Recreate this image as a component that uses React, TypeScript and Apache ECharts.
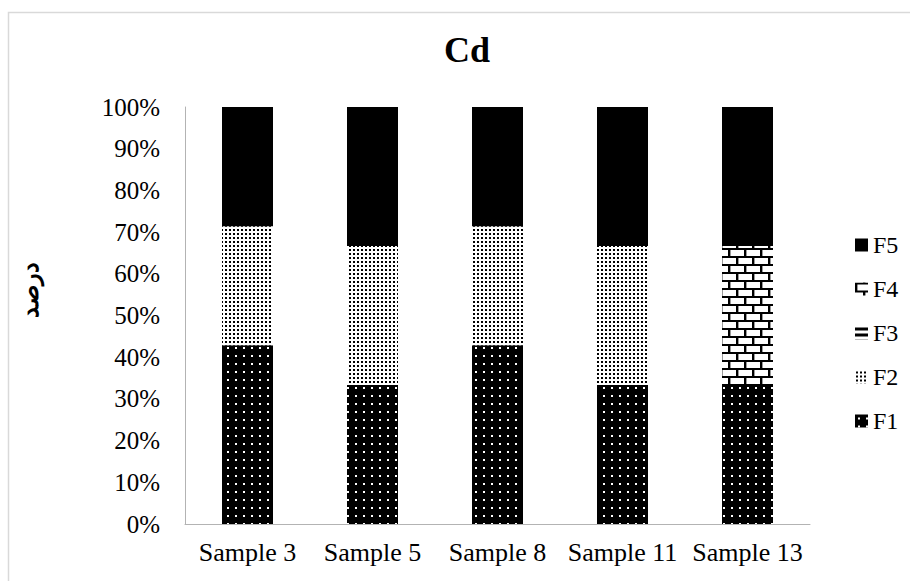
import React, { useEffect, useRef } from 'react';
import * as echarts from 'echarts';

// Fraction shares (percent) of Cd in each sample
const categories = ['Sample 3', 'Sample 5', 'Sample 8', 'Sample 11', 'Sample 13'];
const seriesNames = ['F1', 'F2', 'F3', 'F4', 'F5'];
const f1 = [42.86, 33.33, 42.86, 33.33, 33.33];
const f2 = [28.57, 33.33, 28.57, 33.33, 0];
const f3 = [0, 0, 0, 0, 0];
const f4 = [0, 0, 0, 0, 33.33];
const f5 = [28.57, 33.34, 28.57, 33.34, 33.34];
const legendOrder = ['F5', 'F4', 'F3', 'F2', 'F1'];

const SERIF = '"Times New Roman", "Liberation Serif", "DejaVu Serif", serif';

function tile(w: number, h: number, draw: (ctx: CanvasRenderingContext2D) => void) {
  const c = document.createElement('canvas');
  c.width = w;
  c.height = h;
  const ctx = c.getContext('2d')!;
  draw(ctx);
  return c;
}

function makePatterns() {
  // dark fill with small light dots
  const p1 = tile(8, 8, (ctx) => {
    ctx.fillStyle = '#000';
    ctx.fillRect(0, 0, 8, 8);
    ctx.fillStyle = '#fff';
    ctx.fillRect(3, 3, 2, 2);
  });
  // light fill with dense dark dots
  const p2 = tile(4, 4, (ctx) => {
    ctx.fillStyle = '#fff';
    ctx.fillRect(0, 0, 4, 4);
    ctx.fillStyle = '#000';
    ctx.fillRect(1, 1, 2, 2);
  });
  // horizontal stripes
  const p3 = tile(6, 6, (ctx) => {
    ctx.fillStyle = '#fff';
    ctx.fillRect(0, 0, 6, 6);
    ctx.fillStyle = '#000';
    ctx.fillRect(0, 1, 6, 3);
  });
  // brick wall
  const p4 = tile(16, 16, (ctx) => {
    ctx.fillStyle = '#fff';
    ctx.fillRect(0, 0, 16, 16);
    ctx.fillStyle = '#000';
    ctx.fillRect(0, 0, 16, 2);
    ctx.fillRect(0, 8, 16, 2);
    ctx.fillRect(0, 2, 2, 6);
    ctx.fillRect(8, 10, 2, 6);
    ctx.fillStyle = '#9a9a9a';
    ctx.fillRect(2, 2, 1, 6);
    ctx.fillRect(10, 10, 1, 6);
  });
  return [
    { image: p1, repeat: 'repeat' },
    { image: p2, repeat: 'repeat' },
    { image: p3, repeat: 'repeat' },
    { image: p4, repeat: 'repeat' },
    '#000',
  ];
}

export default function App() {
  const ref = useRef<HTMLDivElement>(null);

  useEffect(() => {
    document.body.style.margin = '0';
    if (!ref.current) return;
    const chart = echarts.init(ref.current, undefined, { renderer: 'svg' });
    const fills = makePatterns();
    const values = [f1, f2, f3, f4, f5];

    chart.setOption({
      animation: false,
      backgroundColor: '#fff',
      grid: { left: 185, right: 100, top: 107, bottom: 57, containLabel: false },
      legend: {
        orient: 'vertical',
        left: 850,
        top: 228,
        itemWidth: 13,
        itemHeight: 13,
        itemGap: 20,
        icon: 'rect',
        data: legendOrder,
        selectedMode: false,
        textStyle: { fontFamily: SERIF, fontSize: 24, color: '#000', padding: [0, 0, 0, 0] },
      },
      xAxis: {
        type: 'category',
        data: categories,
        axisLine: { lineStyle: { color: '#b3b3b3', width: 1 } },
        axisTick: { show: false },
        axisLabel: { interval: 0, fontFamily: SERIF, fontSize: 26, color: '#000', margin: 15 },
      },
      yAxis: {
        type: 'value',
        min: 0,
        max: 100,
        interval: 10,
        axisLine: { show: true, lineStyle: { color: '#b3b3b3', width: 1 } },
        axisTick: { show: false },
        splitLine: { show: false },
        axisLabel: { formatter: '{value}%', fontFamily: SERIF, fontSize: 25, color: '#000', margin: 25 },
      },
      graphic: [
        {
          type: 'rect',
          silent: true,
          shape: { x: 8.5, y: 12.5, width: 1000, height: 1000 },
          style: { fill: 'none', stroke: '#d9d9d9', lineWidth: 1.5 },
        },
        {
          type: 'text',
          x: 467,
          y: 50,
          style: {
            text: 'Cd',
            font: `bold 36px ${SERIF}`,
            fill: '#000',
            textAlign: 'center',
            textVerticalAlign: 'middle',
          },
        },
        {
          type: 'text',
          x: 30,
          y: 290,
          rotation: Math.PI / 2,
          style: {
            text: 'درصد',
            font: `bold 24px ${SERIF}`,
            fill: '#000',
            textAlign: 'center',
            textVerticalAlign: 'middle',
          },
        },
      ],
      series: seriesNames.map((name, i) => ({
        name,
        type: 'bar',
        stack: 'total',
        barWidth: 51,
        silent: true,
        data: values[i],
        itemStyle: { color: fills[i] },
      })),
    });

    return () => chart.dispose();
  }, []);

  return <div ref={ref} style={{ width: 910, height: 581 }} />;
}
